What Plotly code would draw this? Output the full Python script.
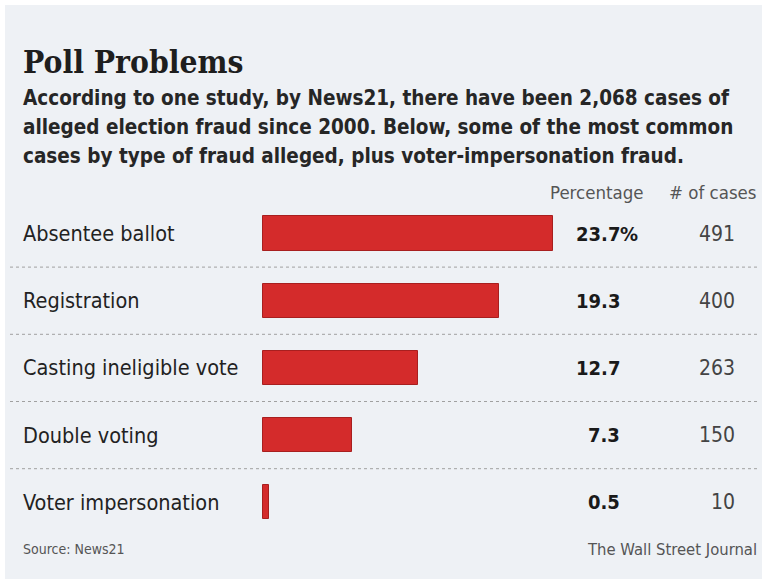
import plotly.graph_objects as go

# Poll Problems: alleged election fraud cases by type (News21)
categories = ["Absentee ballot", "Registration", "Casting ineligible vote",
              "Double voting", "Voter impersonation"]
percentages = [23.7, 19.3, 12.7, 7.3, 0.5]
case_counts = [491, 400, 263, 150, 10]

title_text = "Poll Problems"
subtitle_lines = [
    "According to one study, by News21, there have been 2,068 cases of",
    "alleged election fraud since 2000. Below, some of the most common",
    "cases by type of fraud alleged, plus voter-impersonation fraud.",
]
col_headers = ["Percentage", "# of cases"]
source_text = "Source: News21"
credit_text = "The Wall Street Journal"

W, H = 765, 579
BG = "#eef1f5"
SANS = "DejaVu Sans Condensed, Liberation Sans Narrow, sans-serif"
SERIF = "DejaVu Serif Condensed, DejaVu Serif, serif"

# pixel geometry of the bar area
x0_px, px_per_unit = 263, 12.24
row0_px, row_step = 233.5, 67.2

rows = list(range(len(categories)))

fig = go.Figure()
fig.add_trace(go.Bar(
    x=percentages, y=rows, orientation="h", width=0.51,
    marker=dict(color="#d42b2b", line=dict(color="#a81f1f", width=1)),
    hoverinfo="skip", showlegend=False,
))

def px(x):
    return x / W

def py(y):
    return 1 - y / H

ann = []
ann.append(dict(text=title_text, x=px(21), y=py(61), xanchor="left", yanchor="middle",
                font=dict(family=SERIF, size=31.5, color="#1e1e1e", weight="bold")))
for i, line in enumerate(subtitle_lines):
    ann.append(dict(text=line, x=px(21), y=py(98 + 29 * i), xanchor="left", yanchor="middle",
                    font=dict(family=SANS, size=20.5, color="#262626", weight="bold")))
ann.append(dict(text=col_headers[0], x=px(646), y=py(193), xanchor="right", yanchor="middle",
                font=dict(family=SANS, size=18.5, color="#555555")))
ann.append(dict(text=col_headers[1], x=px(759), y=py(193), xanchor="right", yanchor="middle",
                font=dict(family=SANS, size=18.5, color="#555555")))

for i, (cat, pct, n) in enumerate(zip(categories, percentages, case_counts)):
    ann.append(dict(text=cat, x=px(21), y=i, yref="y", xanchor="left", yanchor="middle",
                    font=dict(family=SANS, size=21.5, color="#222222")))
    ann.append(dict(text=f"{pct:.1f}", x=px(622), y=i, yref="y", xanchor="right",
                    yanchor="middle",
                    font=dict(family=SANS, size=20, color="#1a1a1a", weight="bold")))
    if i == 0:
        ann.append(dict(text="%", x=px(618), y=i, yref="y", xanchor="left", yanchor="middle",
                        font=dict(family=SANS, size=20, color="#1a1a1a", weight="bold")))
    ann.append(dict(text=f"{n}", x=px(737), y=i, yref="y", xanchor="right", yanchor="middle",
                    font=dict(family=SANS, size=21, color="#444444")))

ann.append(dict(text=source_text, x=px(21), y=py(549), xanchor="left", yanchor="middle",
                font=dict(family=SANS, size=14, color="#555555")))
ann.append(dict(text=credit_text, x=px(759), y=py(549), xanchor="right", yanchor="middle",
                font=dict(family=SANS, size=16.5, color="#555555")))

for a in ann:
    a.setdefault("xref", "paper")
    a.setdefault("yref", "paper")
    a["showarrow"] = False

shapes = [dict(type="rect", xref="paper", yref="paper", x0=px(5), x1=px(762),
               y0=0, y1=py(5), fillcolor=BG, line=dict(width=0), layer="below")]
for i in range(len(categories) - 1):
    shapes.append(dict(type="line", xref="paper", yref="y", x0=px(10), x1=px(760),
                       y0=i + 0.5, y1=i + 0.5,
                       line=dict(color="#a0a0a0", width=1, dash="dot")))

fig.update_layout(
    width=W, height=H, margin=dict(l=0, r=0, t=0, b=0),
    paper_bgcolor="white", plot_bgcolor="rgba(0,0,0,0)",
    xaxis=dict(range=[-x0_px / px_per_unit, (W - x0_px) / px_per_unit],
               visible=False, fixedrange=True),
    yaxis=dict(range=[(H - row0_px) / row_step, -row0_px / row_step],
               visible=False, fixedrange=True),
    annotations=ann, shapes=shapes, bargap=0,
)

fig.write_html("out.html")
